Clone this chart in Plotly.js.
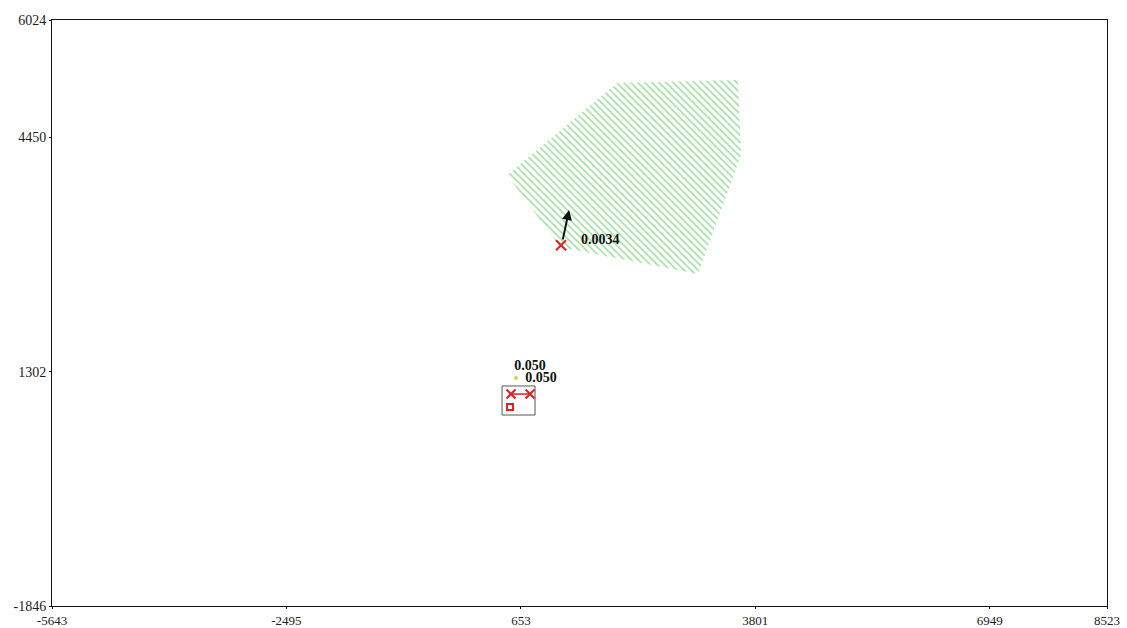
<!DOCTYPE html>
<html>
<head>
<meta charset="utf-8">
<script src="https://cdn.plot.ly/plotly-3.0.1.min.js"></script>
<style>
  body { margin: 0; background: #fff; }
  #plotArea { width: 1127px; height: 628px; }
</style>
</head>
<body>
<div id="plotArea"></div>
<script>
// axis ticks
var xTicks = [-5643, -2495, 653, 3801, 6949, 8523];
var yTicks = [-1846, 1302, 4450, 6024];

// hatched zone polygon
var zoneX = [1944, 3569, 3609, 3031, 1178, 467];
var zoneY = [5178, 5218, 4211, 2613, 2975, 3942];

// main point and its arrow
var mainX = [1192];
var mainY = [2998];
var arrowTip = [1300, 3472];
var mainLabel = "0.0034";
var mainLabelX = [1720];
var mainLabelY = [3069];

// small cluster
var boxX = [400, 843];
var boxY = [719, 1109];
var crossX = [520, 776];
var crossY = [1001, 1001];
var squareX = [507];
var squareY = [827];
var dotX = [588];
var dotY = [1216];
var clusterLabels = ["0.050", "0.050"];
var clusterLabelX = [776, 923];
var clusterLabelY = [1377, 1203];

var zone = {
    x: zoneX,
    y: zoneY,
    type: "scatter",
    mode: "lines",
    fill: "toself",
    line: {width: 0, color: "rgba(0,0,0,0)"},
    fillcolor: "rgba(0,0,0,0)",
    fillpattern: {shape: "\\", fgcolor: "#9fe09f", bgcolor: "white", size: 5, solidity: 0.32},
    hoverinfo: "skip"
};

var box = {
    x: [boxX[0], boxX[1], boxX[1], boxX[0], boxX[0]],
    y: [boxY[0], boxY[0], boxY[1], boxY[1], boxY[0]],
    type: "scatter",
    mode: "lines",
    line: {color: "#555", width: 1}
};

var crosses = {
    x: crossX,
    y: crossY,
    type: "scatter",
    mode: "lines+markers",
    line: {color: "#e02020", width: 1.5},
    marker: {symbol: "x-thin-open", size: 9, color: "#e02020", line: {width: 2, color: "#e02020"}}
};

var square = {
    x: squareX,
    y: squareY,
    type: "scatter",
    mode: "markers",
    marker: {symbol: "square-open", size: 6, color: "#e02020", line: {width: 2}}
};

var dot = {
    x: dotX,
    y: dotY,
    type: "scatter",
    mode: "markers",
    marker: {symbol: "circle", size: 4, color: "#c8d850"}
};

var main = {
    x: mainX,
    y: mainY,
    type: "scatter",
    mode: "markers",
    marker: {symbol: "x-thin-open", size: 10, color: "#e02020", line: {width: 2, color: "#e02020"}}
};

var labels = {
    x: clusterLabelX.concat(mainLabelX),
    y: clusterLabelY.concat(mainLabelY),
    type: "scatter",
    mode: "text",
    text: clusterLabels.concat([mainLabel]),
    textposition: "middle center",
    textfont: {family: "Liberation Serif, serif", size: 14, color: "#111", weight: "bold"}
};

var axisStyle = {
    showgrid: false,
    zeroline: false,
    showline: true,
    mirror: true,
    linecolor: "#111",
    linewidth: 1,
    ticks: "outside",
    ticklen: 2,
    tickcolor: "#111",
    tickfont: {family: "Liberation Serif, serif", size: 13, color: "#222"}
};

var layout = {
    width: 1127,
    height: 628,
    margin: {l: 52, r: 20, t: 20, b: 22},
    paper_bgcolor: "white",
    plot_bgcolor: "white",
    showlegend: false,
    xaxis: Object.assign({}, axisStyle, {range: [-5643, 8523], tickvals: xTicks, ticktext: xTicks.map(String)}),
    yaxis: Object.assign({}, axisStyle, {range: [-1846, 6024], tickvals: yTicks, ticktext: yTicks.map(String), tickfont: {family: "Liberation Serif, serif", size: 14, color: "#222"}}),
    annotations: [{
        x: arrowTip[0], y: arrowTip[1],
        ax: mainX[0] + 20, ay: mainY[0] + 60,
        xref: "x", yref: "y", axref: "x", ayref: "y",
        text: "",
        showarrow: true,
        arrowhead: 2,
        arrowsize: 1,
        arrowwidth: 2,
        arrowcolor: "#111"
    }]
};

Plotly.newPlot("plotArea", [zone, box, crosses, square, dot, main, labels], layout, {staticPlot: true});
</script>
</body>
</html>
